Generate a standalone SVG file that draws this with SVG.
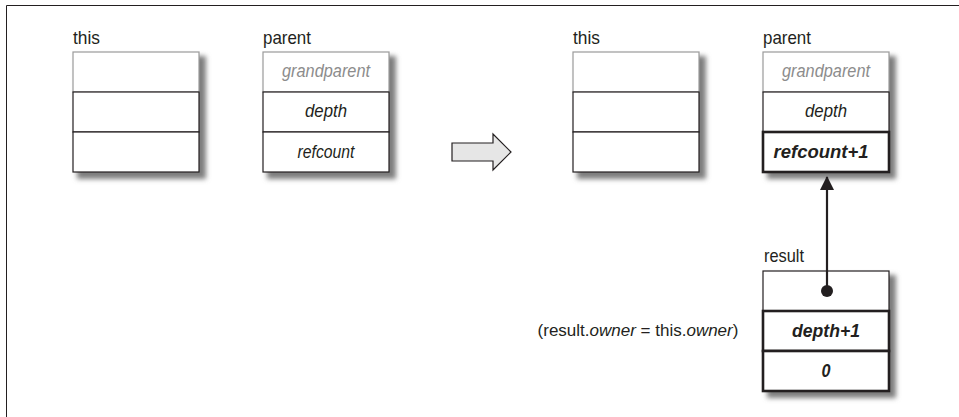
<svg xmlns="http://www.w3.org/2000/svg" width="959" height="417" viewBox="0 0 959 417">
<defs>
<filter id="sh" x="-20%" y="-20%" width="140%" height="140%"><feGaussianBlur stdDeviation="2.5"/></filter>
<marker id="ah" viewBox="0 0 14 16" refX="13" refY="7" markerWidth="14" markerHeight="16" markerUnits="userSpaceOnUse" orient="auto"><path d="M0,0 L14,7 L0,14 z" fill="#231f20"/></marker>
</defs>
<style>
text{font-family:"Liberation Sans",Arial,sans-serif;font-size:18.5px;fill:#231f20}
.lbl{text-anchor:start}
.it{font-style:italic;text-anchor:middle}
.gr{fill:#8c8c8c}
.bi{font-style:italic;font-weight:bold;text-anchor:middle}
.note{font-size:17px;text-anchor:middle}
.shadow{fill:#7e7e7e;filter:url(#sh)}
.cg{fill:#fff;stroke:#9a9a9a;stroke-width:1.2}
.cd{fill:#fff;stroke:#231f20;stroke-width:1.2}
.ct{fill:#fff;stroke:#231f20;stroke-width:2.6}
</style>
<rect width="959" height="417" fill="#fff"/>
<path d="M6.5,417 V5.5 H959" fill="none" stroke="#231f20" stroke-width="1"/>

<g id="this1">
<text class="lbl" x="73" y="44" textLength="27" lengthAdjust="spacingAndGlyphs">this</text>
<rect class="shadow" x="77" y="56" width="129" height="123"/>
<rect class="cg" x="73" y="52" width="126" height="40"/>
<rect class="cd" x="73" y="92" width="126" height="40"/>
<rect class="cd" x="73" y="132" width="126" height="40"/>
</g>

<g id="parent1">
<text class="lbl" x="263" y="44" textLength="48" lengthAdjust="spacingAndGlyphs">parent</text>
<rect class="shadow" x="267" y="56" width="129" height="123"/>
<rect class="cg" x="263" y="52" width="126" height="40"/>
<rect class="cd" x="263" y="92" width="126" height="40"/>
<rect class="cd" x="263" y="132" width="126" height="40"/>
<text class="it gr" x="326" y="77" textLength="88" lengthAdjust="spacingAndGlyphs">grandparent</text>
<text class="it" x="326" y="117" textLength="42" lengthAdjust="spacingAndGlyphs">depth</text>
<text class="it" x="326" y="158" textLength="57" lengthAdjust="spacingAndGlyphs">refcount</text>
</g>

<g id="transform-arrow">
<polygon points="452,143 493,143 493,134 511,152 493,170 493,161 452,161" fill="#e6e6e6" stroke="#231f20" stroke-width="1.2"/>
</g>

<g id="this2">
<text class="lbl" x="573" y="44" textLength="27" lengthAdjust="spacingAndGlyphs">this</text>
<rect class="shadow" x="577" y="56" width="129" height="123"/>
<rect class="cg" x="573" y="52" width="126" height="40"/>
<rect class="cd" x="573" y="92" width="126" height="40"/>
<rect class="cd" x="573" y="132" width="126" height="40"/>
</g>

<g id="parent2">
<text class="lbl" x="763" y="44" textLength="48" lengthAdjust="spacingAndGlyphs">parent</text>
<rect class="shadow" x="767" y="56" width="129" height="123"/>
<rect class="cg" x="763" y="52" width="126" height="40"/>
<rect class="cd" x="763" y="92" width="126" height="40"/>
<rect class="ct" x="763" y="132" width="126" height="40"/>
<text class="it gr" x="826" y="77" textLength="88" lengthAdjust="spacingAndGlyphs">grandparent</text>
<text class="it" x="826" y="117" textLength="42" lengthAdjust="spacingAndGlyphs">depth</text>
<text class="bi" x="821" y="158" textLength="95" lengthAdjust="spacingAndGlyphs">refcount+1</text>
</g>

<g id="result">
<text class="lbl" x="764" y="262" textLength="40" lengthAdjust="spacingAndGlyphs">result</text>
<rect class="shadow" x="767" y="275" width="129" height="123"/>
<rect class="cd" x="763" y="271" width="126" height="40" stroke="#444"/>
<rect class="ct" x="763" y="311" width="126" height="40"/>
<rect class="ct" x="763" y="351" width="126" height="40"/>
<text class="bi" x="826" y="337" textLength="68" lengthAdjust="spacingAndGlyphs">depth+1</text>
<text class="bi" x="826" y="377" textLength="9" lengthAdjust="spacingAndGlyphs">0</text>
</g>

<g id="note">
<text class="note" x="638" y="336">(result.<tspan font-style="italic">owner</tspan> = this.<tspan font-style="italic">owner</tspan>)</text>
</g>

<g id="connectors">
<line x1="827" y1="291" x2="827" y2="177" stroke="#231f20" stroke-width="2.2" marker-end="url(#ah)"/>
<circle cx="827" cy="291" r="6" fill="#231f20"/>
</g>
</svg>
